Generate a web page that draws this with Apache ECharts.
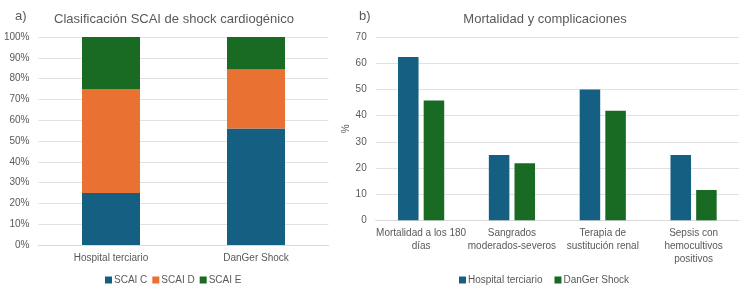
<!DOCTYPE html>
<html><head><meta charset="utf-8">
<script src="https://cdn.jsdelivr.net/npm/echarts@6/dist/echarts.min.js"></script>
<style>html,body{margin:0;padding:0;background:#fff}#c{width:750px;height:292px}</style>
</head><body><div id="c"></div>
<script>
const catsA = ['Hospital terciario', 'DanGer Shock'];
const scaiC = [25, 56];
const scaiD = [50, 28.4];
const scaiE = [25, 15.6];
const ticksA = [0, 10, 20, 30, 40, 50, 60, 70, 80, 90, 100];

const catsB = ['Mortalidad a los 180\ndías', 'Sangrados\nmoderados-severos', 'Terapia de\nsustitución renal', 'Sepsis con\nhemocultivos\npositivos'];
const hospital = [62.5, 25, 50, 25];
const danger = [45.8, 21.8, 41.9, 11.6];

const FONT = '"Liberation Sans", Arial, sans-serif';
const TXT = '#595959';
const BLUE = '#156082', ORANGE = '#E97132', GREEN = '#196B24';
const GRIDC = '#D9D9D9';

const chart = echarts.init(document.getElementById('c'), null, {renderer: 'canvas'});
chart.setOption({
  backgroundColor: '#fff',
  animation: false,
  textStyle: {fontFamily: FONT},
  title: [
    {text: 'a)', left: 10, top: 5, textStyle: {fontSize: 13, fontWeight: 'normal', color: TXT, fontFamily: FONT}},
    {text: 'Clasificación SCAI de shock cardiogénico', left: 169, textAlign: 'center', top: 8, textStyle: {fontSize: 13, fontWeight: 'normal', color: TXT, fontFamily: FONT}},
    {text: 'b)', left: 354, top: 5, textStyle: {fontSize: 13, fontWeight: 'normal', color: TXT, fontFamily: FONT}},
    {text: 'Mortalidad y complicaciones', left: 540, textAlign: 'center', top: 8, textStyle: {fontSize: 13, fontWeight: 'normal', color: TXT, fontFamily: FONT}}
  ],
  legend: [
    {data: ['SCAI C', 'SCAI D', 'SCAI E'], left: 100, top: 270,
     icon: 'rect', itemWidth: 7, itemHeight: 7, itemGap: 5,
     textStyle: {fontSize: 10, color: TXT, fontFamily: FONT, padding: [0, 0, 0, -3]}},
    {data: ['Hospital terciario', 'DanGer Shock'], left: 454, top: 270,
     icon: 'rect', itemWidth: 7, itemHeight: 7, itemGap: 12,
     textStyle: {fontSize: 10, color: TXT, fontFamily: FONT, padding: [0, 0, 0, -3]}}
  ],
  grid: [
    {left: 38.5, right: 421.5, top: 37, bottom: 47},
    {left: 375.7, right: 11, top: 37.3, bottom: 71.7}
  ],
  xAxis: [
    {type: 'category', gridIndex: 0, data: catsA,
     axisLine: {lineStyle: {color: GRIDC}}, axisTick: {show: false},
     axisLabel: {color: TXT, fontSize: 10, margin: 8, fontFamily: FONT}},
    {type: 'category', gridIndex: 1, data: catsB,
     axisLine: {lineStyle: {color: GRIDC}}, axisTick: {show: false},
     axisLabel: {color: TXT, fontSize: 10, margin: 7, lineHeight: 12.7, fontFamily: FONT, interval: 0}}
  ],
  yAxis: [
    {type: 'value', gridIndex: 0, min: 0, max: 100, interval: 10,
     axisLabel: {color: TXT, fontSize: 10, margin: 9, formatter: v => ticksA.includes(v) ? v + '%' : '', fontFamily: FONT},
     splitLine: {lineStyle: {color: GRIDC, width: 0.8}}, axisLine: {show: false}, axisTick: {show: false}},
    {type: 'value', gridIndex: 1, min: 0, max: 70, interval: 10, name: '%', nameLocation: 'middle', nameGap: 22, nameRotate: 90,
     nameTextStyle: {color: TXT, fontSize: 10, fontFamily: FONT},
     axisLabel: {color: TXT, fontSize: 10, margin: 9, fontFamily: FONT},
     splitLine: {lineStyle: {color: GRIDC, width: 0.8}}, axisLine: {show: false}, axisTick: {show: false}}
  ],
  series: [
    {name: 'SCAI C', type: 'bar', stack: 'a', xAxisIndex: 0, yAxisIndex: 0, data: scaiC, barWidth: '40%', itemStyle: {color: BLUE}},
    {name: 'SCAI D', type: 'bar', stack: 'a', xAxisIndex: 0, yAxisIndex: 0, data: scaiD, barWidth: '40%', itemStyle: {color: ORANGE}},
    {name: 'SCAI E', type: 'bar', stack: 'a', xAxisIndex: 0, yAxisIndex: 0, data: scaiE, barWidth: '40%', itemStyle: {color: GREEN}},
    {name: 'Hospital terciario', type: 'bar', xAxisIndex: 1, yAxisIndex: 1, data: hospital, barWidth: '22.6%', barGap: '25%', itemStyle: {color: BLUE}},
    {name: 'DanGer Shock', type: 'bar', xAxisIndex: 1, yAxisIndex: 1, data: danger, barWidth: '22.6%', barGap: '25%', itemStyle: {color: GREEN}}
  ]
});
</script></body></html>
